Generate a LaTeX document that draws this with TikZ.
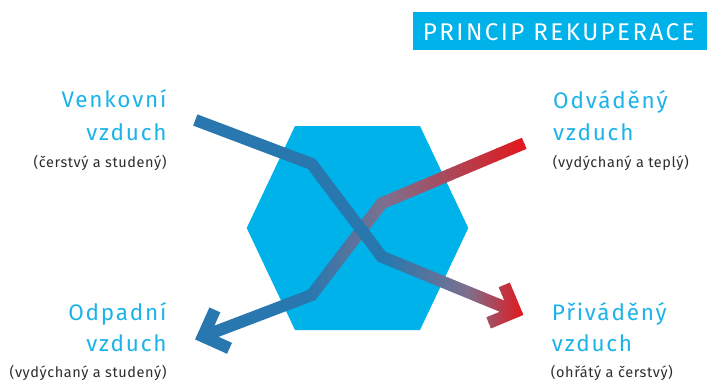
\documentclass[tikz,border=0pt]{standalone}
\usepackage{fontspec}
\setmainfont{Fira Sans}
\newfontfamily\titlefont[LetterSpace=10]{Fira Sans}
\newfontfamily\labelfont[LetterSpace=8]{Fira Sans}
\newfontfamily\smallfont[LetterSpace=4]{Fira Sans}
\usetikzlibrary{calc}
\definecolor{cyanbox}{RGB}{0,178,234}
\definecolor{cyantext}{RGB}{27,179,232}
\definecolor{darktext}{RGB}{45,45,45}
\definecolor{ablue}{RGB}{40,120,175}
\definecolor{amid}{RGB}{125,112,142}
\definecolor{ared}{RGB}{226,24,28}
\newcommand\gradpath[4]{%
  \begin{scope}\clip (-50,-50) rectangle (#2+0.6,450); \draw[arrowline, ablue] #1; \end{scope}
  \foreach \i in {0,...,24}{%
    \pgfmathsetmacro\xl{#2+(#3-#2)*\i/25}%
    \pgfmathsetmacro\xr{#2+(#3-#2)*(\i+1)/25+0.6}%
    \pgfmathsetmacro\pc{(\i+0.5)*4}%
    \begin{scope}\clip (\xl,-50) rectangle (\xr,450); \draw[arrowline, amid!\pc!ablue] #1; \end{scope}
  }
  \foreach \i in {0,...,24}{%
    \pgfmathsetmacro\xl{#3+(#4-#3)*\i/25}%
    \pgfmathsetmacro\xr{#3+(#4-#3)*(\i+1)/25+0.6}%
    \pgfmathsetmacro\pc{(\i+0.5)*4}%
    \begin{scope}\clip (\xl,-50) rectangle (\xr,450); \draw[arrowline, ared!\pc!amid] #1; \end{scope}
  }
  \begin{scope}\clip (#4,-50) rectangle (800,450); \draw[arrowline, ared] #1; \end{scope}
}
\begin{document}
\begin{tikzpicture}[x=1pt,y=-1pt,
  arrowline/.style={line width=12pt, line join=miter, line cap=butt},
  bigl/.style={text=cyantext, inner sep=0pt, font=\labelfont\fontsize{22.5}{26}\selectfont},
  smalll/.style={text=darktext, inner sep=0pt, font=\smallfont\fontsize{14.5}{16}\selectfont}]
\useasboundingbox (0,0) rectangle (707,384);
% title
\fill[cyanbox] (413.3,11.7) rectangle (707,50);
\node[anchor=base west, inner sep=0pt, text=white, font=\titlefont\fontsize{24.2}{26}\selectfont] (title) at (422.7,40) {PRINCIP REKUPERACE};
% hexagon
\fill[cyanbox] (295,126) -- (420,126) -- (468.3,228) -- (420,330) -- (295,330) -- (246.7,228) -- cycle;
% arrow coordinates
\coordinate (a1s) at (195.3,120);
\coordinate (a1b1) at (311.7,164);
\coordinate (a1b2) at (381.7,256.7);
\coordinate (a1t) at (515.5,311.7);
\coordinate (a1u) at (504.3,284.9);
\coordinate (a1l) at (488.7,322.9);
\coordinate (a2s) at (524.2,143.3);
\coordinate (a2b1) at (381.7,203.3);
\coordinate (a2b2) at (311.7,295);
\coordinate (a2t) at (203,336.4);
\coordinate (a2u) at (214.9,309.9);
\coordinate (a2l) at (229.5,348.3);
\def\pathB{(a2s) -- (a2b1) -- (a2b2) -- (a2t) (a2u) -- (a2t) -- (a2l)}
\def\pathA{(a1s) -- (a1b1) -- (a1b2) -- (a1t) (a1u) -- (a1t) -- (a1l)}
\gradpath{\pathB}{310}{385}{524}
\gradpath{\pathA}{385}{468}{524}
% labels
\node[bigl, anchor=base east] (l1a) at (166.7,107.5) {Venkovní};
\node[bigl, anchor=base east] (l1b) at (166.7,140.5) {vzduch};
\node[smalll, anchor=base east] (l1c) at (166.7,167.5) {(čerstvý a studený)};
\node[bigl, anchor=base west] (r1a) at (553,108) {Odváděný};
\node[bigl, anchor=base west] (r1b) at (553,140.5) {vzduch};
\node[smalll, anchor=base west] (r1c) at (552.7,167.5) {(vydýchaný a teplý)};
\node[bigl, anchor=base east] (l2a) at (166.7,320.5) {Odpadní};
\node[bigl, anchor=base east] (l2b) at (166.7,351.5) {vzduch};
\node[smalll, anchor=base east] (l2c) at (166.7,377.5) {(vydýchaný a studený)};
\node[bigl, anchor=base west] (r2a) at (551.7,320) {Přiváděný};
\node[bigl, anchor=base west] (r2b) at (551.7,351.5) {vzduch};
\node[smalll, anchor=base west] (r2c) at (550.7,377) {(ohřátý a čerstvý)};
\end{tikzpicture}
\end{document}
